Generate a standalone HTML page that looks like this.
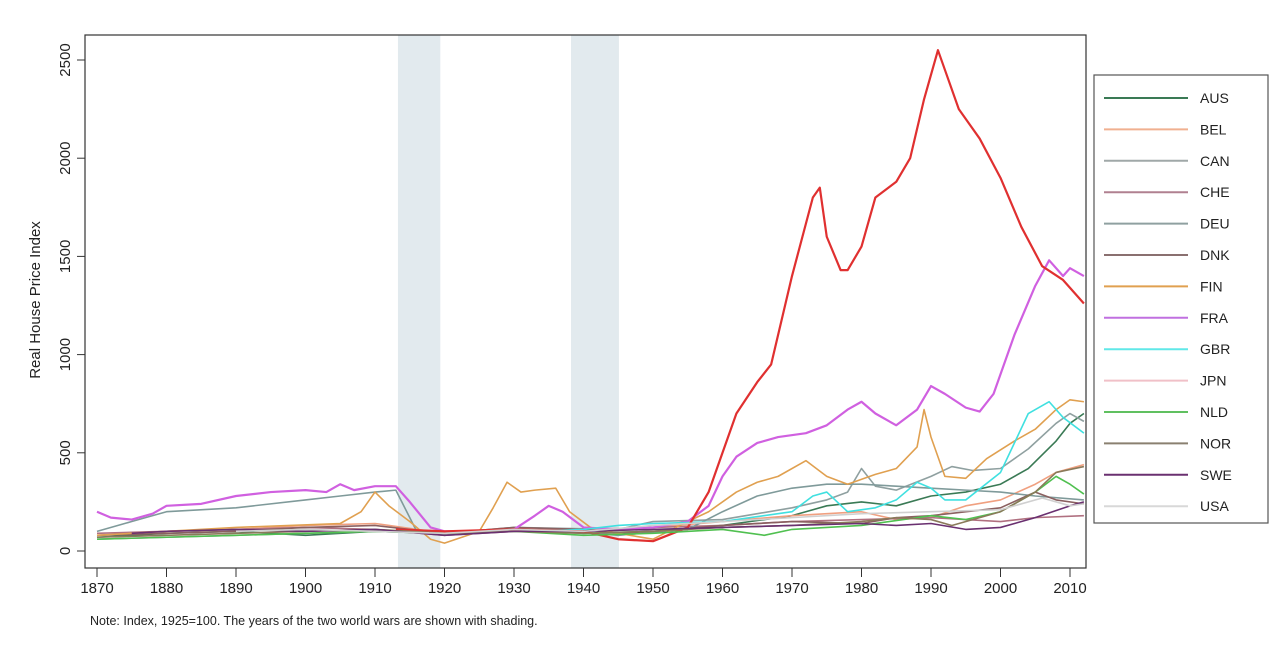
<!DOCTYPE html>
<html><head><meta charset="utf-8"><style>
body{margin:0;background:#fff;width:1274px;height:644px;overflow:hidden;font-family:"Liberation Sans",sans-serif}
</style></head><body>
<svg id="chart" width="1274" height="644" xmlns="http://www.w3.org/2000/svg"></svg>
<script>
const series = ["AUS","BEL","CAN","CHE","DEU","DNK","FIN","FRA","GBR","JPN","NLD","NOR","SWE","USA"];
const colors = ["#3a7a55","#f0a080","#8fa0a0","#b07080","#7f9a9a","#8a6060","#e0a050","#d060e0","#40e0e0","#e03030","#50c050","#8a7a5a","#6a3070","#d0d0d0"];
const legendColors = ["#3a7a55","#f0b090","#a0a8a8","#b08090","#8fa0a0","#8a7070","#e0a050","#c070e0","#60e8e8","#f0c0c8","#60c060","#8a8070","#6a3070","#d8d8d8"];
const xTicks = [1870,1880,1890,1900,1910,1920,1930,1940,1950,1960,1970,1980,1990,2000,2010];
const yTicks = [0,500,1000,1500,2000,2500];
const wars = [[1913.3,1919.4],[1938.2,1945.1]];
const years = {
AUS:[1870,1880,1890,1900,1910,1920,1930,1940,1950,1960,1970,1975,1980,1985,1990,1995,2000,2004,2008,2010,2012],
BEL:[1870,1880,1890,1900,1910,1920,1930,1940,1950,1960,1970,1980,1985,1990,1995,2000,2005,2008,2010,2012],
CAN:[1870,1890,1910,1920,1930,1945,1950,1960,1965,1970,1975,1978,1980,1982,1985,1990,1993,1996,2000,2004,2008,2010,2012],
CHE:[1870,1880,1890,1900,1910,1920,1930,1940,1950,1960,1970,1980,1990,2000,2005,2012],
DEU:[1870,1875,1880,1890,1900,1905,1910,1913,1916,1920,1925,1935,1945,1955,1960,1965,1970,1975,1980,1985,1990,1995,2000,2005,2012],
DNK:[1870,1880,1890,1900,1910,1920,1930,1940,1945,1950,1960,1970,1980,1985,1990,2000,2005,2008,2012],
FIN:[1870,1890,1905,1908,1910,1912,1915,1918,1920,1925,1927,1929,1931,1933,1936,1938,1941,1945,1950,1955,1958,1962,1965,1968,1972,1975,1978,1982,1985,1988,1989,1990,1992,1995,1998,2002,2005,2008,2010,2012],
FRA:[1870,1872,1875,1878,1880,1885,1890,1895,1900,1903,1905,1907,1910,1913,1915,1918,1920,1925,1930,1933,1935,1937,1940,1945,1950,1955,1958,1960,1962,1965,1968,1972,1975,1978,1980,1982,1985,1988,1990,1992,1995,1997,1999,2002,2005,2007,2009,2010,2012],
GBR:[1930,1940,1945,1950,1960,1970,1973,1975,1978,1982,1985,1988,1990,1992,1995,2000,2002,2004,2007,2009,2012],
JPN:[1913,1920,1930,1940,1945,1950,1955,1958,1960,1962,1965,1967,1970,1973,1974,1975,1977,1978,1980,1982,1985,1987,1989,1991,1992,1994,1997,2000,2003,2006,2009,2012],
NLD:[1870,1880,1890,1900,1910,1920,1930,1940,1950,1960,1966,1970,1980,1990,1995,2000,2005,2008,2010,2012],
NOR:[1870,1880,1890,1900,1910,1920,1930,1940,1950,1960,1970,1980,1985,1990,1993,2000,2005,2008,2012],
SWE:[1875,1880,1890,1900,1910,1920,1930,1940,1950,1960,1970,1980,1985,1990,1995,2000,2005,2010,2012],
USA:[1890,1900,1910,1920,1930,1940,1950,1960,1970,1980,1990,2000,2006,2010,2012]
};
const values = {
AUS:[70,90,100,80,100,90,110,90,100,130,180,230,250,230,280,300,340,420,560,650,700],
BEL:[80,100,110,130,140,90,110,100,120,150,180,200,160,170,230,260,340,400,420,440],
CAN:[60,80,100,90,120,110,150,160,190,220,260,300,420,330,310,380,430,410,420,520,650,700,660],
CHE:[90,100,110,120,110,80,100,110,120,130,150,160,170,150,170,180],
DEU:[100,150,200,220,260,280,300,310,100,80,100,110,80,110,200,280,320,340,340,330,320,310,300,280,260],
DNK:[80,90,100,120,130,90,120,110,90,100,130,150,140,170,180,220,300,260,240],
FIN:[80,120,140,200,300,230,150,60,40,100,220,350,300,310,320,200,120,90,60,150,200,300,350,380,460,380,340,390,420,530,720,580,380,370,470,560,620,720,770,760],
FRA:[200,170,160,190,230,240,280,300,310,300,340,310,330,330,250,120,100,100,110,180,230,200,120,110,120,150,230,380,480,550,580,600,640,720,760,700,640,720,840,800,730,710,800,1100,1350,1480,1400,1440,1400],
GBR:[100,110,130,140,150,200,280,300,200,220,260,350,320,260,260,400,550,700,760,680,600],
JPN:[110,100,110,100,60,50,120,300,500,700,860,950,1400,1800,1850,1600,1430,1430,1550,1800,1880,2000,2300,2550,2450,2250,2100,1900,1650,1450,1380,1260],
NLD:[60,70,80,90,100,90,100,80,90,110,80,110,130,180,160,200,300,380,340,290],
NOR:[70,80,90,100,110,90,100,90,100,120,130,150,170,160,130,200,300,400,430],
SWE:[90,100,110,100,110,80,100,100,110,120,130,140,130,140,110,120,170,230,250],
USA:[100,110,100,90,110,100,130,150,170,190,200,210,270,230,240]
};
const svg=document.getElementById('chart');
const NS="http://www.w3.org/2000/svg";
const L=85,R=1086,T=35,B=568;
const xs=y=>97+(y-1870)*(1070-97)/140;
const ys=v=>551-v*(551-60)/2500;
function mk(tag,a){const e=document.createElementNS(NS,tag);for(const k in a)e.setAttribute(k,a[k]);svg.appendChild(e);return e;}
wars.forEach((w,i)=>{const r=mk('rect',{x:xs(w[0]),y:T,width:xs(w[1])-xs(w[0]),height:B-T,fill:'#e2eaee'});

});
series.forEach((s,i)=>{const p=mk('polyline',{points:years[s].map((y,j)=>xs(y)+','+ys(values[s][j])).join(' '),fill:'none',stroke:colors[i],'stroke-width':s==='JPN'||s==='FRA'?2.2:1.6,'stroke-linejoin':'round'});

});
const fr=mk('rect',{x:L,y:T,width:R-L,height:B-T,fill:'none',stroke:'#333','stroke-width':1.2});


xTicks.forEach(t=>{mk('line',{x1:xs(t),x2:xs(t),y1:B,y2:B+9,stroke:'#333'});
const tx=mk('text',{x:xs(t),y:B+25,'text-anchor':'middle','font-size':15,fill:'#222'});tx.textContent=t;

});
yTicks.forEach(t=>{mk('line',{x1:L-8,x2:L,y1:ys(t),y2:ys(t),stroke:'#333'});
const tx=mk('text',{x:0,y:0,'text-anchor':'middle','font-size':15,fill:'#222',transform:`translate(${L-15},${ys(t)}) rotate(-90)`});tx.textContent=t;

});
const yt=mk('text',{x:0,y:0,'text-anchor':'middle','font-size':15,fill:'#222',transform:`translate(40,300) rotate(-90)`});yt.textContent='Real House Price Index';


const note=mk('text',{x:90,y:625,'font-size':12.5,fill:'#222'});note.textContent='Note: Index, 1925=100. The years of the two world wars are shown with shading.';


const lb=mk('rect',{x:1094,y:75,width:174,height:448,fill:'#fff',stroke:'#555','stroke-width':1.2});


series.forEach((s,i)=>{const y=98+i*31.4;
mk('line',{x1:1104,x2:1188,y1:y,y2:y,stroke:legendColors[i],'stroke-width':2});
const t=mk('text',{x:1200,y:y+5,'font-size':14,fill:'#222'});t.textContent=s;

});
</script>
</body></html>
